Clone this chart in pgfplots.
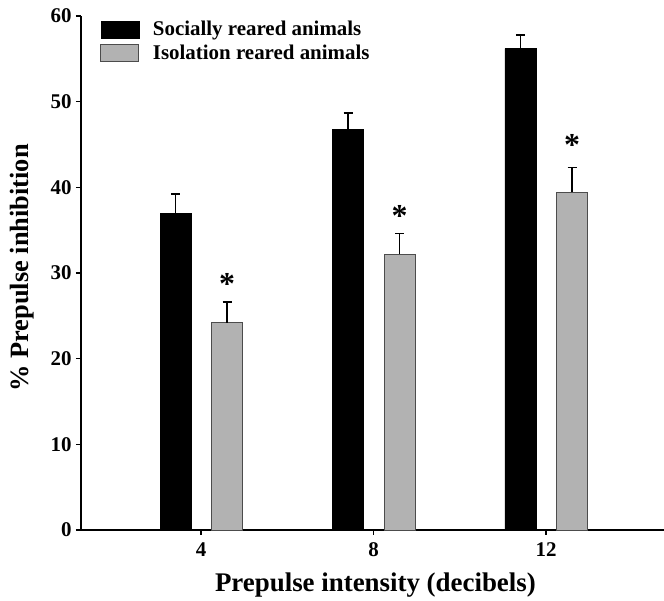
\documentclass[border=0pt]{standalone}
\usepackage{fontspec}
\setmainfont{Liberation Serif}
\usepackage{pgfplots}
\pgfplotsset{compat=1.18}
\definecolor{barGray}{RGB}{178,178,178}
\begin{document}
\begin{tikzpicture}
\begin{axis}[
  scale only axis, width=583bp, height=514bp,
  xmin=-0.696, xmax=2.684, ymin=0, ymax=60,
  axis lines=left,
  axis line style={line width=1.6bp, -},
  xtick={0,1,2}, xticklabels={4,8,12},
  ytick={0,10,20,30,40,50,60},
  tick style={line width=1.2bp, black},
  tick align=outside,
  major tick length=5bp,
  /pgf/number format/assume math mode=true,
  ticklabel style={font=\fontsize{21}{25}\selectfont\bfseries},
  xticklabel style={yshift=-4bp},
  yticklabel style={xshift=-1bp},
  xlabel={Prepulse intensity (decibels)},
  ylabel={\% Prepulse inhibition},
  xlabel style={font=\fontsize{27}{31}\selectfont\bfseries, at={(axis description cs:0.505,0)}, anchor=center, yshift=-55bp},
  ylabel style={font=\fontsize{26.5}{30}\selectfont\bfseries, at={(axis description cs:-0.101,0.51)}, anchor=center},
  legend style={at={(axis description cs:0.033,0.994)}, anchor=north west,
    draw=none, fill=none, font=\fontsize{21}{25}\selectfont\bfseries,
    row sep=4bp, inner sep=0pt},
  legend cell align=left,
  clip=false,
]
\addplot[ybar, bar width=31bp, bar shift=0pt, fill=black, draw=black,
  legend image code/.code={\path[draw=none,fill=none] (0bp,0bp) -- (50bp,0bp); \draw[fill=black,draw=black] (0bp,-8.5bp) rectangle (38bp,8.5bp);},
  error bars/.cd, y dir=plus, y explicit,
  error bar style={line width=1.5bp, black},
  error mark options={rotate=90, line width=1.5bp, mark size=4.5bp, black}]
  coordinates {(-0.148,37.0) +- (0,2.2) (0.852,46.8) +- (0,1.9) (1.852,56.2) +- (0,1.6)};
\addlegendentry{Socially reared animals}
\addplot[ybar, bar width=31bp, bar shift=0pt, fill=barGray, draw=black!70, line width=0.6bp,
  legend image code/.code={\path[draw=none,fill=none] (0bp,0bp) -- (50bp,0bp); \draw[fill=barGray,draw=black!70,line width=1bp] (0bp,-8.5bp) rectangle (38bp,8.5bp);},
  error bars/.cd, y dir=plus, y explicit,
  error bar style={line width=1.5bp, black},
  error mark options={rotate=90, line width=1.5bp, mark size=4.5bp, black}]
  coordinates {(0.151,24.2) +- (0,2.4) (1.151,32.2) +- (0,2.4) (2.151,39.4) +- (0,2.9)};
\addlegendentry{Isolation reared animals}
\addplot[draw=none, mark=none, forget plot,
  nodes near coords={\fontsize{32}{32}\selectfont\bfseries *},
  nodes near coords align={center}]
  coordinates {(0.151,28.7) (1.151,36.7) (2.151,44.9)};
\coordinate (bl) at (rel axis cs:0,0);
\coordinate (tr) at (rel axis cs:1,1);
\end{axis}
\pgfresetboundingbox
\path[use as bounding box] ([xshift=-81bp,yshift=-71bp]bl) rectangle ([yshift=16bp]tr);
\end{tikzpicture}
\end{document}
